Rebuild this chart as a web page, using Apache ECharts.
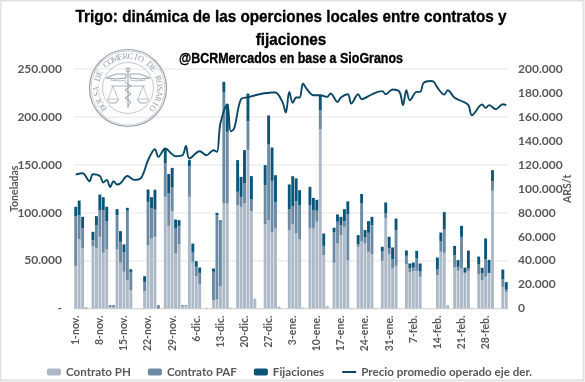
<!DOCTYPE html>
<html lang="es">
<head>
  <meta charset="UTF-8">
  <script src="https://cdn.jsdelivr.net/npm/echarts@6/dist/echarts.min.js"></script>
  <style>
    html, body { margin: 0; padding: 0; background: #fff; }
  </style>
</head>
<body>
  <div id="chart" style="width:585px;height:382px;"></div>

  <script type="text/javascript">
    // un dato por dia, 1-nov a 6-mar
    const meses = [['nov.', 30], ['dic.', 31], ['ene.', 31], ['feb.', 28], ['mar.', 6]];

    const contratoPH = [
      44200, 72400, 62600, 0, 0, 65000, 63300,
      74800, 58100, 61600, 1500, 1500, 61600, 47700,
      38300, 29600, 19100, 0, 0, 0, 18100,
      66100, 73100, 74800, 0, 0, 116600, 86300,
      101600, 57400, 67200, 2500, 2500, 116600, 48700,
      33800, 25000, 0, 700, 0, 8700, 9400,
      23300, 109600, 109600, 1000, 0, 107900, 106100,
      109600, 165400, 101600, 10400, 0, 0, 87700,
      92200, 79300, 83500, 2000, 0, 0, 81800,
      88000, 78300, 72000, 1000, 0, 83500, 83500,
      90500, 187000, 55700, 2400, 0, 47700, 67900,
      76600, 85300, 50500, 700, 0, 64400, 70000,
      67900, 59200, 56700, 700, 0, 49800, 94000,
      56400, 41800, 44500, 0, 0, 46300, 37600,
      39000, 39300, 33100, 0, 0, 0, 0,
      34800, 59200, 58100, 3500, 0, 42800, 39300,
      41800, 36500, 39300, 700, 0, 35800, 29600,
      33100, 36500, 122800, 0, 0, 22600, 17400
    ];

    const contratoPAF = [
      52200, 25000, 20900, 1000, 0, 6300, 23700,
      27800, 44500, 29600, 2000, 2000, 35800, 21900,
      20200, 72400, 19100, 0, 0, 0, 9700,
      45200, 31300, 28700, 3500, 0, 34800, 33800,
      24700, 26100, 19100, 1000, 1000, 32000, 9700,
      9700, 12200, 0, 0, 0, 29600, 88000,
      67200, 115900, 74800, 0, 0, 13900, 10400,
      20900, 30000, 12200, 0, 0, 0, 41100,
      79000, 53900, 27800, 0, 0, 0, 21600,
      18800, 33800, 35800, 0, 0, 24400, 19100,
      11500, 20000, 9700, 0, 0, 31700, 22600,
      10400, 5900, 47700, 0, 0, 2800, 40000,
      6300, 19800, 30300, 0, 0, 10100, 5200,
      6300, 9700, 37200, 0, 0, 8700, 4500,
      3800, 12900, 5900, 0, 0, 0, 0,
      5900, 11100, 24400, 0, 0, 12900, 4200,
      33000, 1000, 2400, 0, 0, 10400, 7000,
      18400, 700, 10100, 0, 0, 7700, 2400
    ];

    const fijaciones = [
      9700, 15300, 12200, 0, 0, 8700, 9400,
      16400, 13600, 15000, 0, 0, 6300, 11100,
      8400, 3100, 2800, 0, 0, 0, 5900,
      12900, 11800, 20500, 0, 0, 15700, 20200,
      20500, 9400, 5900, 0, 0, 6300, 9400,
      5900, 5600, 0, 0, 0, 3500, 2400,
      1400, 11100, 28900, 0, 0, 33100, 20900,
      34800, 29000, 24400, 0, 0, 0, 20900,
      30300, 34800, 27800, 0, 0, 0, 26100,
      31300, 23700, 15700, 0, 0, 19100, 12900,
      11500, 15000, 12900, 0, 0, 4900, 7700,
      8700, 12500, 13600, 0, 0, 9400, 9500,
      7700, 12200, 8700, 0, 0, 4500, 11500,
      12200, 12200, 12200, 0, 0, 5600, 4900,
      5200, 8000, 8000, 0, 0, 0, 0,
      12500, 9000, 18100, 0, 0, 9700, 7000,
      11500, 5200, 18800, 0, 0, 8000, 5900,
      21600, 13600, 11500, 0, 0, 10400, 7700
    ];

    // precio: solo los dias que se pudieron leer del grafico
    const precioDias = [
      0, 2, 4, 5, 7, 8, 9, 10, 11, 12, 13, 15, 17, 19, 21, 23, 24, 26, 28, 29,
      31, 32, 33, 36, 38, 40, 41, 42, 44, 45, 46, 48, 50, 53, 57, 58, 60, 61, 62, 63,
      64, 65, 66, 67, 69, 71, 73, 74, 76, 77, 79, 80, 82, 83, 86, 89, 90, 92, 94, 95,
      96, 97, 99, 100, 101, 103, 104, 105, 107, 108, 110, 112, 114, 115, 118, 119, 120, 122, 124, 125
    ];
    const precioValores = [
      111900, 113000, 106300, 112100, 110700, 105200, 107400, 101500, 106300, 103500,
      104600, 110700, 107400, 109100, 123800, 133000, 126600, 133600, 128800, 127200,
      128000, 135800, 125300, 131300, 128000, 132200, 130800, 154500, 170600, 148000,
      150300, 174800, 176400, 178700, 180400, 180400, 172500, 163700, 180900, 171700,
      176200, 176200, 187900, 183700, 178100, 178100, 176700, 179500, 172500, 176200,
      178900, 171200, 178900, 174800, 178900, 181500, 178900, 182900, 180900, 169800,
      182300, 173900, 180900, 180900, 188400, 190000, 189200, 184500, 178700, 182300,
      175900, 173300, 169800, 161400, 170300, 167500, 169800, 166400, 170600, 169800
    ];

    const colores = { ph: '#adb9c7', paf: '#6c8aa3', fij: '#0b5578', precio: '#0c4865' };
    const gris = '#595959';
    const fuente = 'Lato, "Noto Sans", sans-serif';
    const fuenteTitulo = '"Liberation Sans", sans-serif';

    var categorias = [];
    meses.forEach(function (m) {
      for (var d = 1; d <= m[1]; d++) categorias.push(d + '-' + m[0]);
    });

    function fmtMiles(v) {
      return String(v).replace(/\B(?=(\d{3})+(?!\d))/g, '.');
    }

    // titulo angosto: no hay fuente condensada, se comprime el texto
    function textoTitulo(txt, y, px, escala) {
      return {
        type: 'text', z: 6, x: 291, y: y, scaleX: escala, originX: 0, originY: 0,
        style: { text: txt, fill: '#000', stroke: '#000', lineWidth: 0.35, font: 'bold ' + px + 'px ' + fuenteTitulo, align: 'center', verticalAlign: 'middle' }
      };
    }

    // sello de la Bolsa, marca de agua
    function crearSello(cx, cy) {
      const c = '#98a1ac';
      var els = [];
      function circulo(r, ancho, x, y) {
        els.push({ type: 'circle', z: 1, shape: { cx: x === undefined ? cx : x, cy: y === undefined ? cy : y, r: r }, style: { fill: 'none', stroke: c, lineWidth: ancho } });
      }
      function linea(pts, ancho) {
        els.push({ type: 'polyline', z: 1, shape: { points: pts.map(function (p) { return [cx + p[0], cy + p[1]]; }) }, style: { fill: 'none', stroke: c, lineWidth: ancho } });
      }
      circulo(38.5, 1.2);
      circulo(37, 0.5);
      circulo(25.5, 0.6);

      const texto = 'BOLSA DE COMERCIO DE ROSARIO';
      const paso = 9.6;
      const inicio = -(texto.length - 1) / 2 * paso;
      texto.split('').forEach(function (ch, i) {
        const ang = (inicio + i * paso) * Math.PI / 180;
        els.push({
          type: 'text', z: 1,
          x: cx + Math.sin(ang) * 31.5,
          y: cy - Math.cos(ang) * 31.5,
          rotation: -ang,
          style: { text: ch, fill: c, font: '8.5px "Liberation Serif", serif', align: 'center', verticalAlign: 'middle' }
        });
      });

      // alas
      linea([[-22, -10], [-12, -14], [-2, -14], [-2, -10], [-12, -9], [-22, -10]], 1);
      linea([[22, -10], [12, -14], [2, -14], [2, -10], [12, -9], [22, -10]], 1);
      linea([[-18, -8], [-8, -7], [-2, -8]], 0.7);
      linea([[18, -8], [8, -7], [2, -8]], 0.7);
      // vara y serpiente
      linea([[0, -20], [0, 20]], 1.1);
      circulo(2.2, 0.8, cx, cy - 18);
      linea([[-3, -6], [3, -2], [-3, 2], [3, 6], [-3, 10], [3, 14], [0, 18]], 1);
      // balanza
      linea([[-17, -2], [17, -2]], 0.8);
      [-15, 15].forEach(function (dx) {
        linea([[dx, -2], [dx - 5, 11], [dx + 5, 11], [dx, -2]], 0.6);
        linea([[dx - 6, 11], [dx - 3, 15], [dx + 3, 15], [dx + 6, 11]], 0.9);
      });
      return els;
    }

    function crearGrafico() {
      const chart = echarts.init(document.getElementById('chart'), null, { renderer: 'canvas' });

      const marco = {
        type: 'rect', z: 0,
        shape: { x: 0.5, y: 0.5, width: 583, height: 380 },
        style: { fill: 'none', stroke: '#e2e2e2', lineWidth: 2 }
      };

      const titulos = [
        textoTitulo('Trigo: dinámica de las operciones locales entre contratos y', 17, 17, 0.9),
        textoTitulo('fijaciones', 40, 17, 0.9),
        textoTitulo('@BCRMercados en base a SioGranos', 59, 14, 0.89)
      ];

      const option = {
        backgroundColor: '#fff',
        animation: false,
        legend: {
          left: 42, top: 361,
          itemWidth: 14, itemHeight: 7, itemGap: 17,
          data: [
            'Contrato PH', 'Contrato PAF', 'Fijaciones',
            { name: 'Precio promedio operado eje der.', itemStyle: { opacity: 0 } }
          ],
          textStyle: { fontFamily: fuente, fontWeight: 'bold', fontSize: 11.6, color: gris }
        },
        grid: { left: 74, right: 77, top: 69, bottom: 73.5, outerBoundsMode: 'none' },
        xAxis: {
          type: 'category',
          data: categorias,
          boundaryGap: true,
          axisLine: { lineStyle: { color: '#d9d9d9' } },
          axisTick: { interval: 6, length: 4, lineStyle: { color: '#d9d9d9' } },
          axisLabel: { interval: 6, rotate: 90, color: gris, fontFamily: fuente, fontWeight: 'bold', fontSize: 10.5, margin: 7 }
        },
        yAxis: [
          {
            type: 'value', min: 0, max: 250000, interval: 50000,
            name: 'Toneladas', nameLocation: 'middle', nameGap: 54, nameMoveOverlap: false, nameRotate: 90,
            nameTextStyle: { color: gris, fontFamily: fuente, fontWeight: 'bold', fontSize: 10.5 },
            axisLine: { show: false }, axisTick: { show: false },
            splitLine: { lineStyle: { color: '#eeeeee', width: 1.5 } },
            axisLabel: {
              color: gris, fontFamily: fuente, fontWeight: 'bold', fontSize: 12, margin: 12,
              formatter: function (v) { return v === 0 ? '-' : fmtMiles(v); }
            }
          },
          {
            type: 'value', min: 0, max: 200000, interval: 20000,
            name: 'ARS/t', nameLocation: 'middle', nameGap: 54, nameMoveOverlap: false, nameRotate: 90,
            nameTextStyle: { color: gris, fontFamily: fuente, fontWeight: 'bold', fontSize: 10.5 },
            axisLine: { show: false }, axisTick: { show: false },
            splitLine: { show: false },
            axisLabel: {
              color: gris, fontFamily: fuente, fontWeight: 'bold', fontSize: 12, margin: 10,
              formatter: function (v) { return fmtMiles(v); }
            }
          }
        ],
        series: [
          { name: 'Contrato PH', type: 'bar', stack: 't', barWidth: 2.9, itemStyle: { color: colores.ph }, data: contratoPH },
          { name: 'Contrato PAF', type: 'bar', stack: 't', barWidth: 2.9, itemStyle: { color: colores.paf }, data: contratoPAF },
          { name: 'Fijaciones', type: 'bar', stack: 't', barWidth: 2.9, itemStyle: { color: colores.fij }, data: fijaciones },
          {
            name: 'Precio promedio operado eje der.', type: 'line', yAxisIndex: 1,
            smooth: 0.35, symbol: 'none', z: 5,
            lineStyle: { color: colores.precio, width: 1.9 },
            itemStyle: { color: colores.precio },
            data: precioDias.map(function (d, i) { return [d, precioValores[i]]; })
          }
        ],
        graphic: { elements: [marco].concat(crearSello(128, 88), titulos) }
      };

      chart.setOption(option);
    }
    crearGrafico();
  </script>
</body>
</html>
